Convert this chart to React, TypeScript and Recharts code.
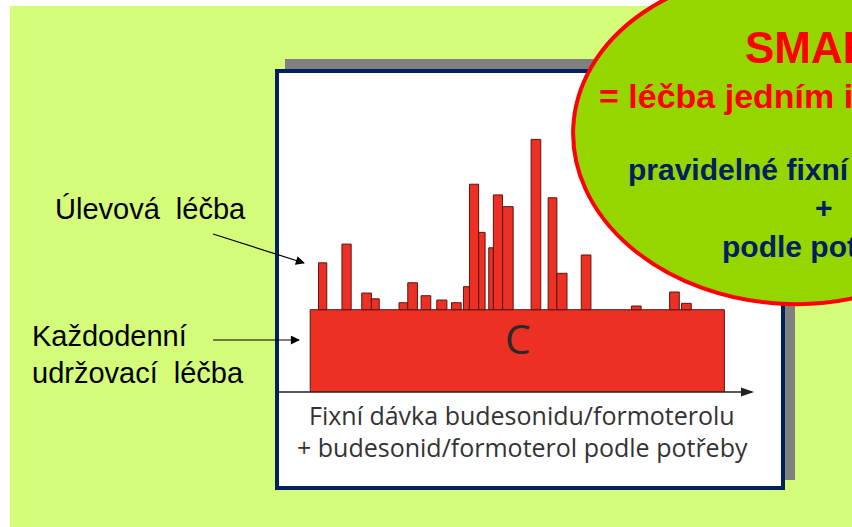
import React from 'react';
import { ComposedChart, Area, XAxis, YAxis, ReferenceArea, ReferenceDot } from 'recharts';

// Daily maintenance dose (fixed) – outline of the base block
const maintenanceDays = [0, 0, 90, 90];
const maintenanceDose = [0, 4, 4, 0];
const baseLevel = 4;

// As-needed (reliever) inhalations on top of the maintenance dose
const reliefStart = [1.8, 6.9, 11.2, 13.3, 19.3, 21.2, 24.1, 27.5, 30.7, 33.3, 34.6, 36.6, 38.8, 39.8, 41.8, 48.0, 51.7, 53.6, 58.9, 69.8, 78.1, 80.7];
const reliefEnd = [3.6, 8.9, 13.3, 15.0, 21.2, 23.3, 26.2, 29.7, 32.8, 34.6, 36.6, 38.0, 39.8, 41.8, 44.1, 50.1, 53.6, 55.8, 61.0, 71.9, 80.2, 82.8];
const reliefDose = [2.28, 3.19, 0.81, 0.53, 0.34, 1.31, 0.68, 0.47, 0.34, 1.12, 6.10, 3.76, 3.01, 5.58, 5.01, 8.28, 5.44, 1.77, 2.66, 0.18, 0.86, 0.31];

const dayDomain = [-7, 96];
const doseDomain = [0, 14];

const xAxisLabel = ['Fixní dávka budesonidu/formoterolu', '+ budesonid/formoterol podle potřeby'];
const leftLabels = ['Úlevová léčba', 'Každodenní', 'udržovací léčba'];
const bubbleLines = ['SMART', '= léčba jedním inhalátorem', 'pravidelné fixní dávkování', '+', 'podle potřeby'];

const baseData = maintenanceDays.map((d, i) => ({ day: d, maintenance: maintenanceDose[i] }));

const BAR_FILL = '#ec3024';
const BAR_STROKE = '#5a1410';

const AxisArrow = (props: any) => {
  const { cx, cy } = props;
  if (cx == null || cy == null) return null;
  return <polygon points={`${cx + 2},${cy} ${cx - 11},${cy - 4.5} ${cx - 11},${cy + 4.5}`} fill="#222" />;
};

export default function App() {
  return (
    <div style={{ position: 'absolute', left: 0, top: 0, width: 852, height: 527, overflow: 'hidden', background: '#ffffff' }}>
      <div style={{ position: 'absolute', left: 10, top: 6, right: 0, bottom: 0, background: '#d4fc7a' }} />
      {/* shadow */}
      <div style={{ position: 'absolute', left: 285, top: 59, width: 510, height: 421, background: '#808080' }} />
      {/* frame */}
      <div style={{ position: 'absolute', left: 275, top: 69, width: 510, height: 421, boxSizing: 'border-box', border: '4px solid #002060', background: '#ffffff' }} />
      <div style={{ position: 'absolute', left: 278, top: 73 }}>
        <ComposedChart width={490} height={413} data={baseData} margin={{ top: 31, right: 16, left: 0, bottom: 93 }}>
          <XAxis
            dataKey="day"
            type="number"
            domain={dayDomain}
            allowDataOverflow
            height={1}
            tick={false}
            tickLine={false}
            axisLine={{ stroke: '#222', strokeWidth: 1.5 }}
          />
          <YAxis type="number" domain={doseDomain} allowDataOverflow hide />
          <Area
            dataKey="maintenance"
            type="linear"
            fill={BAR_FILL}
            fillOpacity={1}
            stroke={BAR_STROKE}
            strokeWidth={1}
            isAnimationActive={false}
            dot={false}
            activeDot={false}
          />
          {reliefStart.map((s, i) => (
            <ReferenceArea
              key={i}
              x1={s}
              x2={reliefEnd[i]}
              y1={baseLevel}
              y2={baseLevel + reliefDose[i]}
              fill={BAR_FILL}
              fillOpacity={1}
              stroke={BAR_STROKE}
              strokeWidth={1}
              strokeOpacity={1}
              ifOverflow="visible"
            />
          ))}
          <ReferenceDot x={dayDomain[1]} y={0} r={0} ifOverflow="visible" shape={AxisArrow} />
        </ComposedChart>
      </div>
      <svg width={852} height={527} style={{ position: 'absolute', left: 0, top: 0, pointerEvents: 'none' }}>
        <defs>
          <marker id="ah" viewBox="0 0 10 10" refX="9" refY="5" markerWidth="13" markerHeight="9" markerUnits="userSpaceOnUse" orient="auto">
            <path d="M0,0 L10,5 L0,10 z" fill="#000" />
          </marker>
        </defs>
        {/* C label inside base block */}
        <text x={518} y={354} textAnchor="middle" fontFamily="'Open Sans', sans-serif" fontWeight={400} fontSize={41} fill="#2a2a2a">C</text>
        {/* x axis caption */}
        <text x={309} y={425} fontFamily="'Open Sans', sans-serif" fontSize={25} fill="#333">{xAxisLabel[0]}</text>
        <text x={297} y={457} fontFamily="'Open Sans', sans-serif" fontSize={25} fill="#333">{xAxisLabel[1]}</text>
        {/* left labels */}
        <text x={55} y={219} fontFamily="'Liberation Sans', Arial, sans-serif" fontSize={29} wordSpacing={8} fill="#000">{leftLabels[0]}</text>
        <text x={32} y={346} fontFamily="'Liberation Sans', Arial, sans-serif" fontSize={29} wordSpacing={8} fill="#000">{leftLabels[1]}</text>
        <text x={32} y={383} fontFamily="'Liberation Sans', Arial, sans-serif" fontSize={29} wordSpacing={8} fill="#000">{leftLabels[2]}</text>
        <line x1={213} y1={234} x2={304} y2={263} stroke="#000" strokeWidth={1.2} markerEnd="url(#ah)" />
        <line x1={213} y1={340} x2={299} y2={340} stroke="#000" strokeWidth={1.2} markerEnd="url(#ah)" />
        {/* bubble */}
        <ellipse cx={790} cy={138} rx={217} ry={166} transform="rotate(3 790 138)" fill="#95d500" stroke="#ff0000" strokeWidth={4} />
        <text x={745} y={63} fontFamily="'Liberation Sans', Arial, sans-serif" fontWeight={700} fontSize={44} fill="#ff0000">{bubbleLines[0]}</text>
        <text x={599} y={108} fontFamily="'Liberation Sans', Arial, sans-serif" fontWeight={700} fontSize={34} fill="#ff0000">{bubbleLines[1]}</text>
        <text x={628} y={180} fontFamily="'Liberation Sans', Arial, sans-serif" fontWeight={700} fontSize={30} fill="#002060">{bubbleLines[2]}</text>
        <text x={815} y={218} fontFamily="'Liberation Sans', Arial, sans-serif" fontWeight={700} fontSize={30} fill="#002060">{bubbleLines[3]}</text>
        <text x={722} y={257} fontFamily="'Liberation Sans', Arial, sans-serif" fontWeight={700} fontSize={30} fill="#002060">{bubbleLines[4]}</text>
      </svg>
    </div>
  );
}
